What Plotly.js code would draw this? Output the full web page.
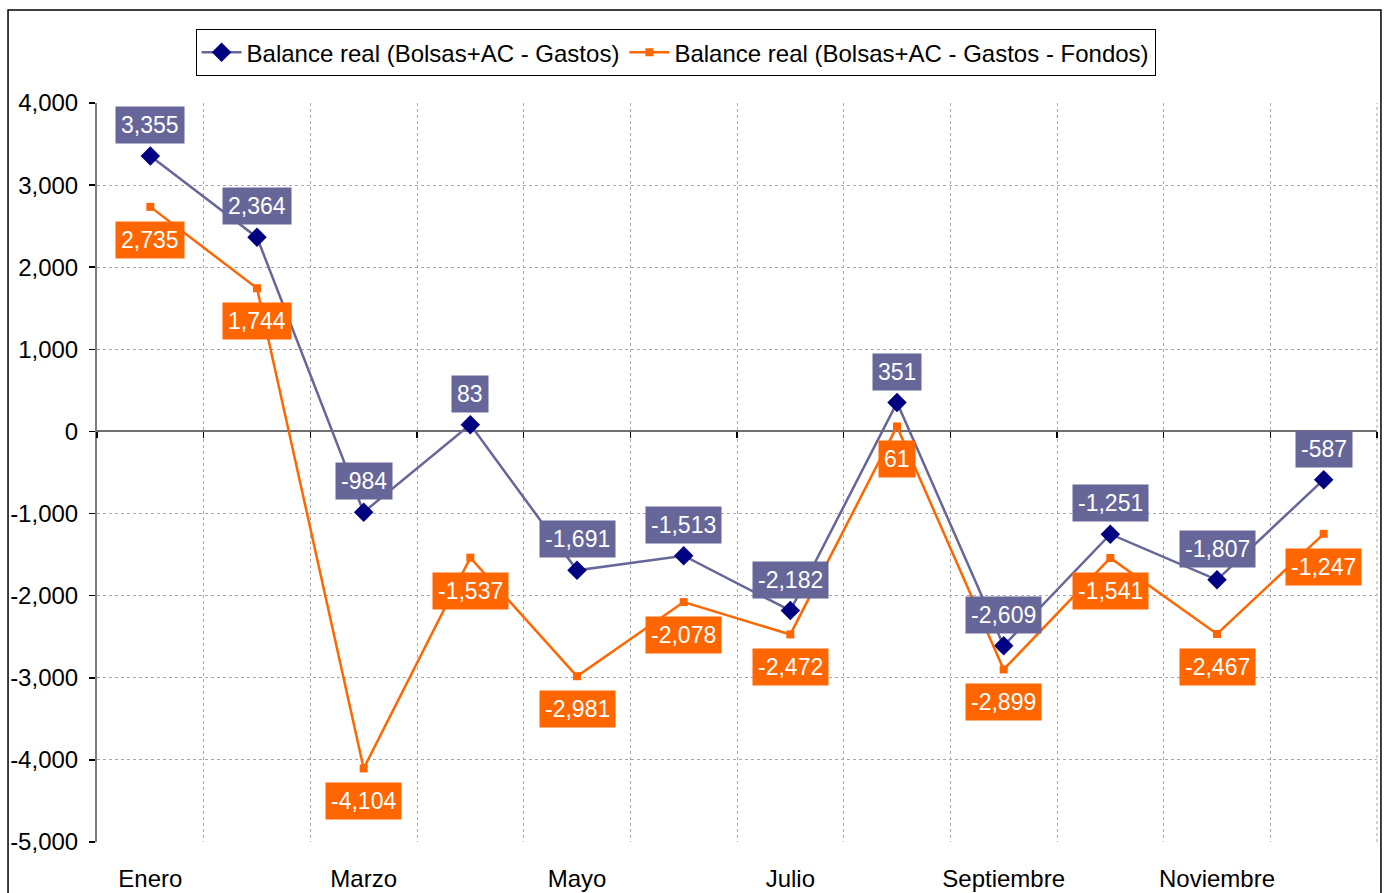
<!DOCTYPE html>
<html>
<head>
<meta charset="utf-8">
<script src="https://cdn.plot.ly/plotly-3.0.1.min.js"></script>
<style>html,body{margin:0;padding:0;background:#fff;}#chart{width:1388px;height:893px;}</style>
</head>
<body>
<div id="chart"></div>
<script>
const months = ["Enero","Febrero","Marzo","Abril","Mayo","Junio","Julio","Agosto","Septiembre","Octubre","Noviembre","Diciembre"];
const seriesNames = ["Balance real (Bolsas+AC - Gastos)", "Balance real (Bolsas+AC - Gastos - Fondos)"];
const balanceGastos = [3355, 2364, -984, 83, -1691, -1513, -2182, 351, -2609, -1251, -1807, -587];
const balanceFondos = [2735, 1744, -4104, -1537, -2981, -2078, -2472, 61, -2899, -1541, -2467, -1247];
const yTickVals = [-5000, -4000, -3000, -2000, -1000, 0, 1000, 2000, 3000, 4000];
const yTickText = ["-5,000", "-4,000", "-3,000", "-2,000", "-1,000", "0", "1,000", "2,000", "3,000", "4,000"];

const idx = months.map((m, i) => i);
const FONT = "Liberation Sans, Arial, sans-serif";
const C1 = "#666699", M1 = "#000080", C2 = "#FF6600";

const fmt = v => v.toLocaleString("en-US");

const traces = [
  {x: idx, y: balanceGastos, name: seriesNames[0], type: "scatter", mode: "lines+markers",
   line: {color: C1, width: 2.5}, marker: {symbol: "diamond", size: 15, color: M1}, hoverinfo: "skip"},
  {x: idx, y: balanceFondos, name: seriesNames[1], type: "scatter", mode: "lines+markers",
   line: {color: C2, width: 2.5}, marker: {symbol: "square", size: 8, color: C2}, hoverinfo: "skip"},
  {x: [], y: [], xaxis: "x2", showlegend: false, hoverinfo: "skip", type: "scatter"}
];

const annotations = [];
balanceGastos.forEach((v, i) => annotations.push({
  x: i, y: v, text: fmt(v), showarrow: false, yshift: 31, bgcolor: C1, borderpad: 5,
  font: {family: FONT, size: 23, color: "#fff"}
}));
balanceFondos.forEach((v, i) => annotations.push({
  x: i, y: v, text: fmt(v), showarrow: false, yshift: -33, bgcolor: C2, borderpad: 5,
  font: {family: FONT, size: 23, color: "#fff"}
}));

const boundaries = months.map((m, i) => i + 0.5);
const allBounds = [-0.5].concat(boundaries);
const range = [-0.5, months.length - 0.5];

const layout = {
  width: 1388, height: 893,
  margin: {l: 97, r: 11, t: 103, b: 51},
  paper_bgcolor: "#fff", plot_bgcolor: "#fff",
  font: {family: FONT, size: 24, color: "#000"},
  showlegend: true,
  legend: {orientation: "h", x: 0.452, xanchor: "center", y: 1.1, yanchor: "top",
           bordercolor: "#000", borderwidth: 1, bgcolor: "#fff",
           font: {family: FONT, size: 24, color: "#000"}, itemwidth: 40, tracegroupgap: 0},
  xaxis: {range: range, tickvals: idx.filter(i => i % 2 === 0), ticktext: months.filter((m, i) => i % 2 === 0),
          showgrid: false, zeroline: false, showline: false, ticks: "", ticklabelstandoff: 20,
          tickfont: {family: FONT, size: 24, color: "#000"},
          minor: {tickvals: boundaries, showgrid: true, gridcolor: "#a8a8a8", griddash: "dot", gridwidth: 1, ticks: ""}},
  xaxis2: {overlaying: "x", anchor: "free", position: 5/9, range: range, tickvals: allBounds,
           ticks: "outside", ticklen: 6, tickwidth: 1.5, tickcolor: "#000", showticklabels: false,
           showgrid: false, zeroline: false, showline: false},
  yaxis: {range: [-5000, 4000], tickvals: yTickVals, ticktext: yTickText,
          showgrid: true, gridcolor: "#a8a8a8", griddash: "dot", gridwidth: 1,
          zeroline: true, zerolinecolor: "#707070", zerolinewidth: 2,
          showline: true, linecolor: "#808080", linewidth: 2,
          ticks: "outside", ticklen: 6, tickcolor: "#000", tickwidth: 1.5, ticklabelstandoff: 6,
          tickfont: {family: FONT, size: 24, color: "#000"}},
  annotations: annotations,
  shapes: [
    {type: "rect", xref: "paper", yref: "paper", x0: -0.0695, x1: 1.0031, y0: -0.1, y1: 1.1258,
     line: {color: "#000", width: 1.5}, fillcolor: "rgba(0,0,0,0)", layer: "below"},
    {type: "line", xref: "paper", yref: "paper", x0: 1, x1: 1, y0: 0, y1: 1,
     line: {color: "#a8a8a8", width: 1, dash: "dot"}, layer: "below"}
  ]
};

Plotly.newPlot("chart", traces, layout, {displayModeBar: false, staticPlot: true});
</script>
</body>
</html>
